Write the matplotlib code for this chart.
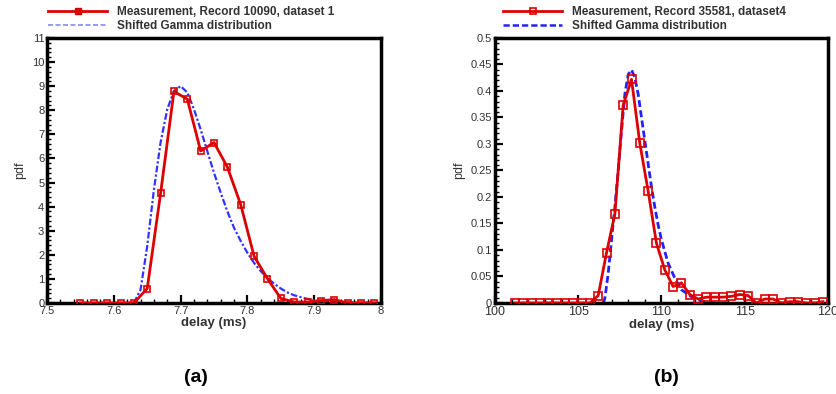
import matplotlib.pyplot as plt
from matplotlib.lines import Line2D
from matplotlib.ticker import MultipleLocator

plt.rcParams['font.family'] = ['Liberation Sans', 'DejaVu Sans']

# panel (a): measurement, record 10090
meas_a_x = [7.55, 7.57, 7.59, 7.61, 7.63, 7.65, 7.67, 7.69, 7.71, 7.73, 7.75, 7.77,
            7.79, 7.81, 7.83, 7.85, 7.87, 7.89, 7.91, 7.93, 7.95, 7.97, 7.99]
meas_a_y = [0, 0, 0, 0, 0, 0.6, 4.55, 8.78, 8.46, 6.31, 6.66, 5.64,
            4.08, 1.94, 1.01, 0.19, 0.04, 0.04, 0.10, 0.14, 0, 0, 0]
# panel (a): shifted gamma fit
gam_a_x = [7.63, 7.64, 7.65, 7.66, 7.67, 7.68, 7.69, 7.70, 7.71, 7.72, 7.73, 7.74,
           7.75, 7.76, 7.77, 7.78, 7.79, 7.80, 7.81, 7.82, 7.83, 7.84, 7.85, 7.86,
           7.87, 7.88, 7.89, 7.90, 7.92, 7.95, 8.0]
gam_a_y = [0, 0.55, 2.36, 4.7, 6.66, 8.04, 8.8, 9.0, 8.74, 8.04, 7.2, 6.3,
           5.4, 4.58, 3.8, 3.12, 2.57, 2.08, 1.66, 1.32, 1.04, 0.8, 0.6, 0.44,
           0.32, 0.24, 0.17, 0.11, 0.06, 0.02, 0]

# panel (b): measurement, record 35581
meas_b_x = [101.2, 101.7, 102.2, 102.7, 103.2, 103.7, 104.2, 104.7, 105.2, 105.7,
            106.2, 106.7, 107.2, 107.7, 108.2, 108.7, 109.2, 109.7, 110.2, 110.7,
            111.2, 111.7, 112.2, 112.7, 113.2, 113.7, 114.2, 114.7, 115.2, 115.7,
            116.2, 116.7, 117.2, 117.7, 118.2, 118.7, 119.2, 119.7]
meas_b_y = [0, 0, 0, 0, 0, 0, 0, 0, 0, 0,
            0.014, 0.095, 0.1675, 0.373, 0.422, 0.301, 0.211, 0.1125, 0.0625, 0.031,
            0.038, 0.016, 0.0075, 0.011, 0.011, 0.011, 0.0125, 0.016, 0.014, 0,
            0.0075, 0.0075, 0, 0.0025, 0.0025, 0, 0, 0.0025]
gam_b_x = [106.5, 106.6, 106.8, 107.0, 107.2, 107.4, 107.6, 107.8, 108.0, 108.2,
           108.4, 108.6, 108.8, 109.0, 109.2, 109.4, 109.6, 109.8, 110.0, 110.4,
           110.8, 111.2, 111.6, 112.0, 112.5, 113.0, 113.5]
gam_b_y = [0, 0.009, 0.056, 0.119, 0.181, 0.25, 0.325, 0.394, 0.431, 0.44,
           0.425, 0.394, 0.35, 0.306, 0.2625, 0.219, 0.181, 0.147, 0.119, 0.075,
           0.047, 0.025, 0.016, 0.0075, 0.003, 0.001, 0]

red = '#dd0000'
txt = '#333333'

fig = plt.figure(figsize=(8.37, 3.94), dpi=100)
ax1 = fig.add_axes([0.0562, 0.231, 0.399, 0.6726])
ax2 = fig.add_axes([0.5914, 0.231, 0.3978, 0.6726])

ax1.plot(meas_a_x, meas_a_y, color=red, lw=2, marker='s', ms=4,
         mfc='none', mec=red, mew=1.2, zorder=3)
ax1.plot(gam_a_x, gam_a_y, color='#3333ff', lw=1.6, ls=(0, (3, 1, 1, 1)), zorder=2)
ax1.set_xlim(7.5, 8)
ax1.set_ylim(0, 11)
ax1.xaxis.set_major_locator(MultipleLocator(0.1))
ax1.xaxis.set_minor_locator(MultipleLocator(0.02))
ax1.yaxis.set_major_locator(MultipleLocator(1))
ax1.yaxis.set_minor_locator(MultipleLocator(0.2))
ax1.xaxis.set_major_formatter(plt.FuncFormatter(lambda v, p: f'{v:g}'))

ax2.plot(meas_b_x, meas_b_y, color=red, lw=2, marker='s', ms=5.5,
         mfc='none', mec=red, mew=1.2, zorder=3)
ax2.plot(gam_b_x, gam_b_y, color='#2222ff', lw=2, ls=(0, (2.5, 1.2)), zorder=2)
ax2.set_xlim(100, 120)
ax2.set_ylim(0, 0.5)
ax2.xaxis.set_major_locator(MultipleLocator(5))
ax2.xaxis.set_minor_locator(MultipleLocator(1))
ax2.yaxis.set_major_locator(MultipleLocator(0.05))
ax2.yaxis.set_minor_locator(MultipleLocator(0.01))
ax2.yaxis.set_major_formatter(plt.FuncFormatter(lambda v, p: f'{v:g}'))

for ax in (ax1, ax2):
    for s in ax.spines.values():
        s.set_linewidth(2.5)
    ax.tick_params(which='both', direction='in', top=False, right=False,
                   labelsize=8, labelcolor=txt, pad=2)
    ax.tick_params(which='major', length=6, width=1.6)
    ax.tick_params(which='minor', length=3, width=1)
    ax.set_xlabel('delay (ms)', fontsize=9.5, fontweight='bold', color=txt, labelpad=1)
    ax.set_ylabel('pdf', fontsize=9, color=txt, labelpad=4)
ax2.tick_params(axis='x', labelsize=9)

h_a = [Line2D([], [], color=red, lw=2, marker='s', ms=5, mfc=red, mec=red),
       Line2D([], [], color='#8888ff', lw=1.2, ls=(0, (3, 1.5)))]
ax1.legend(h_a, ['Measurement, Record 10090, dataset 1', 'Shifted Gamma distribution'],
           loc='lower left', bbox_to_anchor=(-0.01, 1.006), frameon=False,
           prop={'weight': 'bold', 'size': 8.5}, handlelength=5.0, labelspacing=0.15,
           borderaxespad=0, handletextpad=0.8, labelcolor=txt)
h_b = [Line2D([], [], color=red, lw=2, marker='s', ms=5, mfc='none', mec=red, mew=1.2),
       Line2D([], [], color='#2222ff', lw=1.8, ls=(0, (2.5, 1.2)))]
ax2.legend(h_b, ['Measurement, Record 35581, dataset4', 'Shifted Gamma distribution'],
           loc='lower left', bbox_to_anchor=(0.01, 1.006), frameon=False,
           prop={'weight': 'bold', 'size': 8.5}, handlelength=5.0, labelspacing=0.15,
           borderaxespad=0, handletextpad=0.8, labelcolor=txt)

fig.text(196 / 837, 1 - 378 / 394, '(a)', fontsize=14, fontweight='bold',
         ha='center', va='center')
fig.text(666 / 837, 1 - 378 / 394, '(b)', fontsize=14, fontweight='bold',
         ha='center', va='center')

fig.savefig('out.png', dpi=100)
